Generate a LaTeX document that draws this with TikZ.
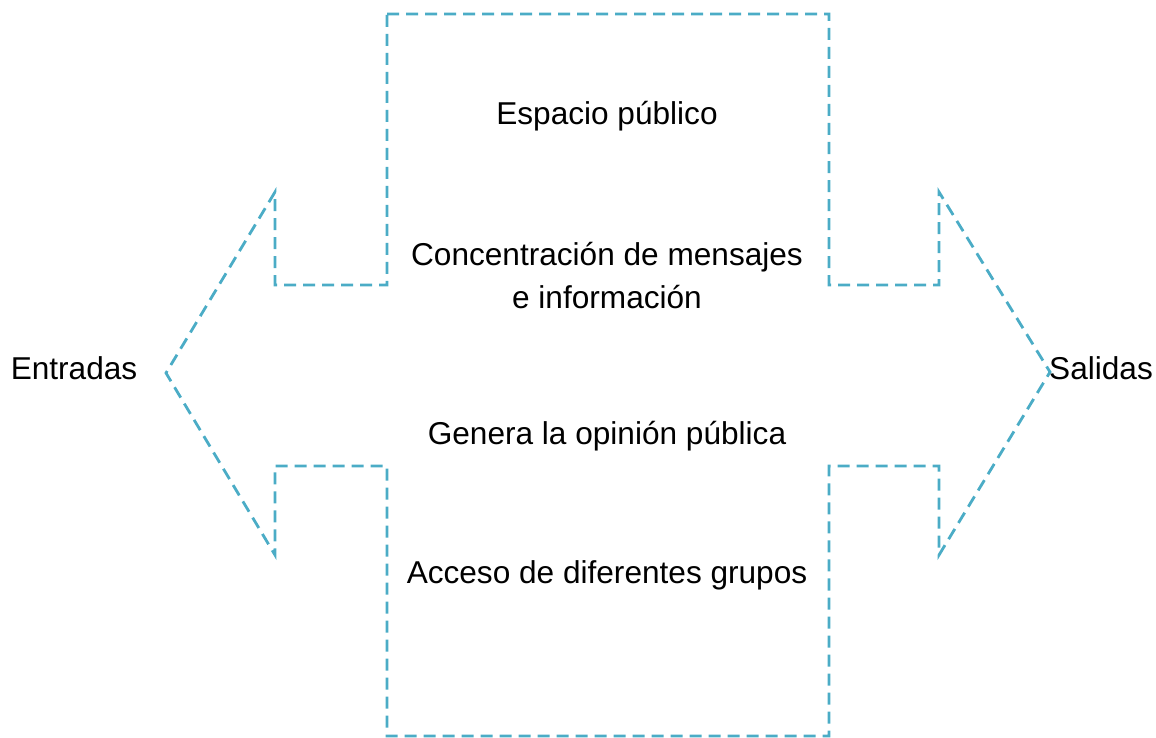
\documentclass[tikz,border=0pt]{standalone}
\usepackage{fontspec}
\setmainfont{Liberation Sans}
\definecolor{outl}{HTML}{4BACC6}
\begin{document}
\begin{tikzpicture}[x=0.5pt,y=-0.5pt,
  outline/.style={draw=outl,line width=1.4pt,dash pattern=on 6pt off 3.5pt},
  lbl/.style={font=\fontsize{15.8pt}{21.5pt}\selectfont,align=center,inner sep=0pt}]
\useasboundingbox (0,0) rectangle (1156,738);
\draw[outline] (387,14) -- (829,14) -- (829,285) -- (939,285) -- (939,192)
  -- (1050,372) -- (939,555) -- (939,466) -- (829,466) -- (829,736)
  -- (387,736) -- (387,466) -- (275,466) -- (275,555) -- (166,373)
  -- (275,192) -- (275,285) -- (387,285) -- cycle;
\node[lbl] (esp) at (607,116) {Espacio público};
\node[lbl] (con) at (607,276) {Concentración de mensajes\\e información};
\node[lbl] (gen) at (607,436) {Genera la opinión pública};
\node[lbl] (acc) at (607,575) {Acceso de diferentes grupos};
\node[lbl] (ent) at (74,368) {Entradas};
\node[lbl] (sal) at (1101,368) {Salidas};
\end{tikzpicture}
\end{document}
